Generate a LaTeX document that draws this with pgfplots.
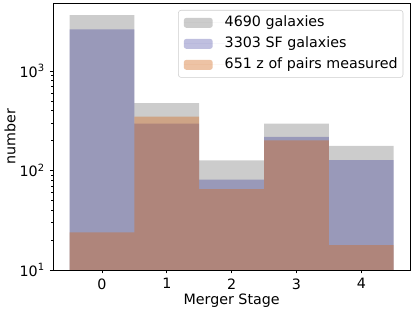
\documentclass[border=0pt]{standalone}
\usepackage{pgfplots}
\pgfplotsset{compat=1.18}
\usepackage{fontspec}
\setmainfont{DejaVu Sans}
\definecolor{cgray}{RGB}{128,128,128}
\definecolor{cnavy}{RGB}{0,0,128}
\definecolor{cchoc}{RGB}{210,105,30}
\begin{document}
\fontsize{10.7}{12.8}\selectfont
\begin{tikzpicture}
\useasboundingbox (-40pt,-30.75pt) rectangle (271.3pt,202.5pt);
\begin{axis}[
  scale only axis,
  width=267.5pt, height=200.25pt,
  ymode=log,
  xmin=-0.75, xmax=4.75,
  ymin=10, ymax=4820,
  xtick={0,1,2,3,4},
  xticklabels={0,1,2,3,4},
  ytick={10,100,1000},
  yticklabels={10\textsuperscript{1},10\textsuperscript{2},10\textsuperscript{3}},
  tick align=outside,
  xtick pos=left, ytick pos=left,
  major tick length=2.6pt,
  minor tick length=1.5pt,
  axis line style={line width=0.6pt},
  every tick/.style={black, line width=0.5pt},
  tick label style={font=\fontsize{10.7}{12.8}\selectfont},
  label style={font=\fontsize{10.7}{12.8}\selectfont},
  xlabel={Merger Stage},
  ylabel={number},
  xlabel style={at={(axis description cs:0.5,-0.1164)}, anchor=center},
  ylabel style={at={(axis description cs:-0.1215,0.5)}, anchor=center},
  legend style={at={(rel axis cs:1,1)}, anchor=north east, xshift=-5pt, yshift=-5.25pt,
    draw=black!20, rounded corners=2pt, font=\fontsize{10.7}{12.8}\selectfont,
    inner xsep=4pt, inner ysep=4.2pt, row sep=5.25pt, column sep=0pt,
    nodes={inner xsep=0pt, inner ysep=0pt, text height=8pt, text depth=2.5pt}},
  legend cell align=left,
  legend image code/.code={\fill[#1] (0pt,-3.75pt) rectangle (21.75pt,3.75pt);
    \path (0pt,0pt) -- (30.75pt,0pt);},
]
\addplot[ybar, bar width=1, bar shift=0pt, draw=none, fill=cgray, fill opacity=0.4]
  coordinates {(0,3650) (1,474) (2,126) (3,296) (4,177)};
\addlegendentry{4690 galaxies}
\addplot[ybar, bar width=1, bar shift=0pt, draw=none, fill=cnavy, fill opacity=0.25]
  coordinates {(0,2620) (1,296) (2,81) (3,217) (4,127)};
\addlegendentry{3303 SF galaxies}
\addplot[ybar, bar width=1, bar shift=0pt, draw=none, fill=cchoc, fill opacity=0.4]
  coordinates {(0,23.9) (1,348) (2,65) (3,201) (4,17.8)};
\addlegendentry{651 z of pairs measured}
\end{axis}
\end{tikzpicture}
\end{document}
